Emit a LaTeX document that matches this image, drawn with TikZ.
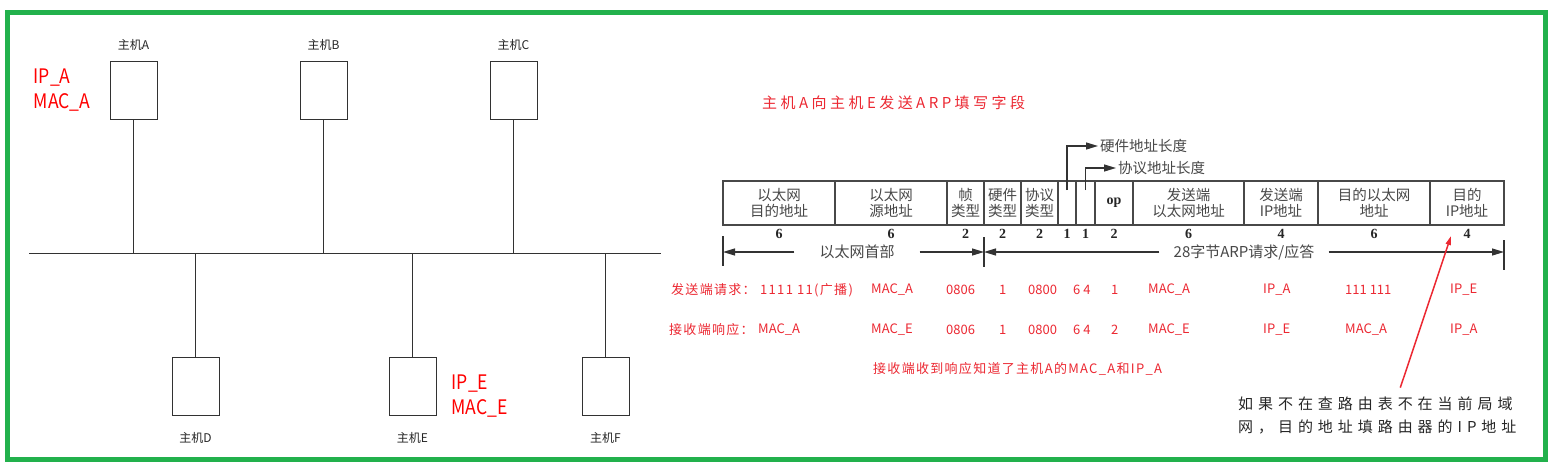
\documentclass[tikz,border=0pt]{standalone}
\usepackage{fontspec}
\newfontfamily\cjk{Noto Sans CJK SC}
\newfontfamily\cjkwide[LetterSpace=23]{Noto Sans CJK SC}
\newfontfamily\cjkrow[LetterSpace=10]{Noto Sans CJK SC}
\newfontfamily\cjknote[LetterSpace=33]{Noto Sans CJK SC}
\newfontfamily\addrfont[FakeStretch=0.88]{Noto Sans CJK SC}
\newfontfamily\serifnum{Liberation Serif}
\usetikzlibrary{positioning,arrows.meta}
\definecolor{framegreen}{RGB}{34,177,76}
\definecolor{hostred}{RGB}{255,0,0}
\definecolor{rowred}{RGB}{236,40,50}
\definecolor{tblgray}{RGB}{72,72,72}
\definecolor{netgray}{RGB}{50,50,50}

\begin{document}
\begin{tikzpicture}[
    x=1pt, y=-1pt,
    host/.style={rectangle, draw=netgray, line width=1pt, minimum width=47pt, minimum height=58pt, inner sep=0pt},
    hostname/.style={inner sep=0pt, text=black!85, font=\cjk\fontsize{12pt}{14pt}\selectfont},
    addr/.style={inner sep=0pt, align=left, text=hostred, font=\addrfont\fontsize{20pt}{25pt}\selectfont},
    wire/.style={draw=netgray, line width=1pt},
    field/.style={rectangle, draw=tblgray, line width=1.2pt, minimum height=44pt, inner sep=0pt, outer sep=0pt, align=center, text=tblgray, font=\cjk\fontsize{14.5pt}{16pt}\selectfont},
    bytenum/.style={inner sep=0pt, text=black!85, font=\serifnum\bfseries\fontsize{14pt}{16pt}\selectfont},
    ptr/.style={draw=black!80, line width=1.2pt, -{Triangle[length=12pt,width=7pt]}},
    ptrlabel/.style={anchor=west, inner sep=2pt, text=tblgray, font=\cjk\fontsize{14.5pt}{16pt}\selectfont},
    spanarrow/.style={draw=black!80, line width=1.2pt, -{Triangle[length=12pt,width=7pt]}},
    spanlabel/.style={inner ysep=0pt, text=tblgray, font=\cjk\fontsize{15pt}{17pt}\selectfont},
    tickline/.style={draw=black!80, line width=1.2pt},
    heading/.style={anchor=west, inner sep=0pt, text=rowred, font=\cjkwide\fontsize{15pt}{17pt}\selectfont},
    rowtxt/.style={anchor=west, inner sep=0pt, text=rowred, font=\cjk\fontsize{13pt}{15pt}\selectfont},
    rowwide/.style={rowtxt, font=\cjkrow\fontsize{13pt}{15pt}\selectfont},
    remark/.style={anchor=west, align=left, inner sep=0pt, text=black!85, font=\cjknote\fontsize{15pt}{23pt}\selectfont},
    notearrow/.style={draw=rowred, line width=1.5pt, -{Triangle[length=9pt,width=5pt]}}
]
\useasboundingbox (0,0) rectangle (1556,469);
\fill[white] (0,0) rectangle (1556,469);
\draw[framegreen, line width=5pt] (7.5,12.5) rectangle (1545.5,459.5);

\node[host] (hostA) at (133.5,90) {};
\node[host, right=142pt of hostA] (hostB) {};
\node[host, right=142pt of hostB] (hostC) {};
\node[host] (hostD) at (195.5,386) {};
\node[host, right=169pt of hostD] (hostE) {};
\node[host, right=145pt of hostE] (hostF) {};
\foreach \h in {A,B,C} \node[hostname, above=10pt of host\h] (name\h) {主机\h};
\foreach \h in {D,E,F} \node[hostname, below=17pt of host\h] (name\h) {主机\h};
\node[addr, left=19pt of hostA] (addrA) {IP\_A\\MAC\_A};
\node[addr, right=15pt of hostE, yshift=-10pt] (addrE) {IP\_E\\MAC\_E};

\coordinate (busL) at (29,253);
\coordinate (busR) at (661,253);
\draw[wire] (busL) -- (busR);
\foreach \h in {hostA,hostB,hostC} \draw[wire] (\h.south) -- (\h.south |- busL);
\foreach \h in {hostD,hostE,hostF} \draw[wire] (\h.north) -- (\h.north |- busL);

\node[heading] (title) at (762,103) {主机A向主机E发送ARP填写字段};

\node[field, minimum width=112pt, anchor=north west] (f1) at (723,181) {以太网\\目的地址};
\node[field, minimum width=112pt, right=0pt of f1] (f2) {以太网\\源地址};
\node[field, minimum width=37pt, right=0pt of f2] (f3) {帧\\类型};
\node[field, minimum width=37pt, right=0pt of f3] (f4) {硬件\\类型};
\node[field, minimum width=37pt, right=0pt of f4] (f5) {协议\\类型};
\node[field, minimum width=18pt, right=0pt of f5] (f6) {};
\node[field, minimum width=19pt, right=0pt of f6] (f7) {};
\node[field, minimum width=38pt, right=0pt of f7, text=black!85, font=\serifnum\bfseries\fontsize{14pt}{16pt}\selectfont] (f8) {op};
\node[field, minimum width=111pt, right=0pt of f8] (f9) {发送端\\以太网地址};
\node[field, minimum width=74pt, right=0pt of f9] (f10) {发送端\\IP地址};
\node[field, minimum width=112pt, right=0pt of f10] (f11) {目的以太网\\地址};
\node[field, minimum width=74pt, right=0pt of f11] (f12) {目的\\IP地址};
\foreach \f/\n in {f1/6,f2/6,f3/2,f4/2,f5/2,f6/1,f7/1,f8/2,f9/6,f10/4,f11/6,f12/4}
  \node[bytenum, below=4pt of \f] (len\f) {\n};

\node[ptrlabel] (hwlen) at (1098,146) {硬件地址长度};
\node[ptrlabel] (prlen) at (1116,168) {协议地址长度};
\draw[ptr] ([yshift=13pt]f6.center) |- (hwlen.west);
\draw[ptr] ([yshift=13pt]f7.center) |- (prlen.west);

\coordinate (ethL) at (f1.south west |- 0,252);
\coordinate (ethR) at (f3.south east |- 0,252);
\coordinate (arpR) at (f12.south east |- 0,252);
\node[spanlabel, inner xsep=25pt] (ethhdr) at (857,252) {以太网首部};
\node[spanlabel, inner xsep=14pt] (arpmsg) at (1244,252) {28字节ARP请求/应答};
\draw[spanarrow] (ethhdr.west) -- (ethL);
\draw[spanarrow] (ethhdr.east) -- (ethR);
\draw[spanarrow] (arpmsg.west) -- (ethR);
\draw[spanarrow] (arpmsg.east) -- (arpR);
\draw[tickline] ([yshift=16pt]ethL) -- ([yshift=-14pt]ethL);
\draw[tickline] ([yshift=15pt]ethR) -- ([yshift=-15pt]ethR);
\draw[tickline] ([yshift=12pt]arpR) -- ([yshift=-18pt]arpR);

\node[rowwide] (reqlabel) at (671,290) {发送端请求：};
\node[rowwide] (reqdst) at (760,290) {1111 11(广播)};
\foreach \x/\t [count=\i] in {871/MAC\_A,946/0806,999/1,1028/0800,1073/6 4,1111/1,1148/MAC\_A,1263/IP\_A,1345/111 111,1450/IP\_E}
  \node[rowtxt] (req\i) at (\x,290) {\t};
\node[rowwide] (replabel) at (669,330) {接收端响应：};
\foreach \x/\t [count=\i] in {758/MAC\_A,871/MAC\_E,946/0806,999/1,1028/0800,1073/6 4,1111/2,1148/MAC\_E,1263/IP\_E,1345/MAC\_A,1450/IP\_A}
  \node[rowtxt] (rep\i) at (\x,330) {\t};
\node[rowwide] (learn) at (873,369) {接收端收到响应知道了主机A的MAC\_A和IP\_A};

\node[remark] (remark) at (1238,415.5) {如果不在查路由表不在当前局域\\网，目的地址填路由器的IP地址};
\coordinate (iptip) at (1451,236);
\draw[notearrow] ([xshift=23pt,yshift=9pt]remark.north) -- (iptip);
\end{tikzpicture}
\end{document}
